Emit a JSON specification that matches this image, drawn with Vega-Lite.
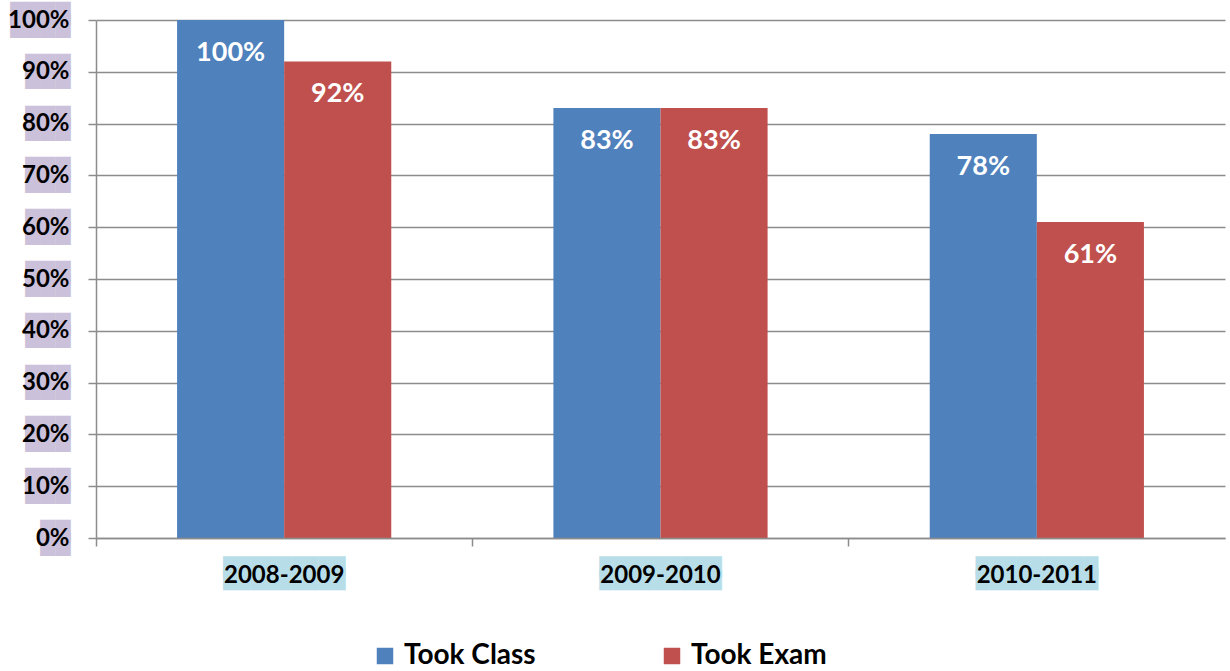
{
  "$schema": "https://vega.github.io/schema/vega-lite/v6.json",
  "width": 1129,
  "height": 518,
  "autosize": {"type": "none"},
  "padding": {"left": 96, "top": 20, "right": 5, "bottom": 133},
  "background": "white",
  "config": {"view": {"stroke": null}, "font": "Lato"},
  "data": {
    "values": [
      {"year": "2008-2009", "series": "Took Class", "value": 1.0},
      {"year": "2008-2009", "series": "Took Exam", "value": 0.92},
      {"year": "2009-2010", "series": "Took Class", "value": 0.83},
      {"year": "2009-2010", "series": "Took Exam", "value": 0.83},
      {"year": "2010-2011", "series": "Took Class", "value": 0.78},
      {"year": "2010-2011", "series": "Took Exam", "value": 0.61}
    ]
  },
  "layer": [
    {
      "mark": {"type": "bar"},
      "encoding": {
        "x": {
          "field": "year", "type": "nominal", "sort": ["2008-2009", "2009-2010", "2010-2011"],
          "scale": {"paddingInner": 0, "paddingOuter": 0},
          "axis": {
            "orient": "bottom", "title": null, "domain": false, "ticks": true, "tickSize": 8, "tickOpacity": 0,
            "labelAngle": 0, "labelExpr": "[pad('', length(datum.label), '█'), pad('', length(datum.label), '█')]",
            "labelFont": "DejaVu Sans", "labelFontSize": 17.7, "labelLineHeight": 13.7, "labelColor": "#b7dee8", "labelPadding": 12,
            "zindex": 0, "grid": false,
            "encoding": {"labels": {"update": {"stroke": {"value": "#b7dee8"}, "strokeWidth": {"value": 7}, "strokeJoin": {"value": "miter"}}}}
          }
        },
        "xOffset": {
          "field": "series", "type": "nominal", "sort": ["Took Class", "Took Exam"],
          "scale": {"paddingInner": 0, "paddingOuter": 0.757}
        },
        "y": {
          "field": "value", "type": "quantitative",
          "scale": {"domain": [0, 1], "nice": false},
          "axis": {
            "orient": "left", "title": null, "values": [0, 0.1, 0.2, 0.3, 0.4, 0.5, 0.6, 0.7, 0.8, 0.9, 1.0],
            "format": ".0%", "grid": true, "gridColor": "#8c8c8c", "gridWidth": 1.5,
            "domain": false, "ticks": true, "tickSize": 8, "tickOpacity": 0,
            "labelExpr": "[pad('', length(datum.label), '█'), pad('', length(datum.label), '█')]",
            "labelFont": "DejaVu Sans", "labelFontSize": 19.6, "labelLineHeight": 12.5, "labelColor": "#ccc1da", "labelPadding": 18,
            "labelOffset": -6.5,
            "labelFlush": false, "labelOverlap": false, "zindex": 0,
            "encoding": {"labels": {"update": {"stroke": {"value": "#ccc1da"}, "strokeWidth": {"value": 7}, "strokeJoin": {"value": "miter"}}}}
          }
        },
        "color": {
          "field": "series", "type": "nominal",
          "scale": {"domain": ["Took Class", "Took Exam"], "range": ["#4f81bd", "#c0504d"]},
          "legend": {
            "orient": "none", "legendX": 275, "legendY": 622, "direction": "horizontal", "title": null,
            "symbolType": "square", "symbolSize": 272, "symbolStrokeWidth": 0, "symbolOpacity": 1,
            "labelFont": "Lato", "labelFontWeight": "bold", "labelFontSize": 28, "labelColor": "black",
            "labelOffset": 5, "columnPadding": 122
          }
        }
      }
    },
    {
      "mark": {"type": "text", "color": "white", "font": "Lato", "fontWeight": "bold", "fontSize": 27, "dy": 33, "baseline": "middle", "align": "center"},
      "encoding": {
        "x": {
          "field": "year", "type": "nominal", "sort": ["2008-2009", "2009-2010", "2010-2011"],
          "axis": {
            "orient": "bottom", "title": null, "bandPosition": 0, "labelAngle": 0,
            "domain": true, "domainColor": "#8c8c8c", "domainWidth": 1.5,
            "ticks": true, "tickSize": 8, "tickColor": "#8c8c8c", "tickWidth": 1.5,
            "labelFont": "Lato", "labelFontWeight": "bold", "labelFontSize": 24, "labelColor": "black",
            "labelPadding": 17, "zindex": 1, "grid": false
          }
        },
        "xOffset": {"field": "series", "type": "nominal", "sort": ["Took Class", "Took Exam"]},
        "y": {
          "field": "value", "type": "quantitative",
          "axis": {
            "orient": "left", "title": null, "values": [0, 0.1, 0.2, 0.3, 0.4, 0.5, 0.6, 0.7, 0.8, 0.9, 1.0],
            "format": ".0%", "grid": false,
            "domain": true, "domainColor": "#8c8c8c", "domainWidth": 1.5,
            "ticks": true, "tickSize": 8, "tickColor": "#8c8c8c", "tickWidth": 1.5,
            "labelFont": "Lato", "labelFontWeight": "bold", "labelFontSize": 24, "labelColor": "black",
            "labelPadding": 19, "labelFlush": false, "labelOverlap": false, "zindex": 1
          }
        },
        "text": {"field": "value", "type": "quantitative", "format": ".0%"}
      }
    }
  ],
  "resolve": {"axis": {"x": "independent", "y": "independent"}}
}
